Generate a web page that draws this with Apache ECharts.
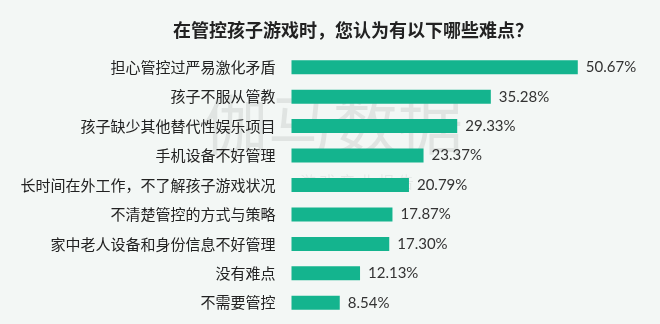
<!DOCTYPE html>
<html><head><meta charset="utf-8">
<script src="https://cdn.jsdelivr.net/npm/echarts@6/dist/echarts.min.js"></script>
<style>html,body{margin:0;padding:0;background:#f3f7f5;}#c{width:660px;height:324px;}</style>
</head><body><div id="c"></div>
<script>
const categories = ['担心管控过严易激化矛盾','孩子不服从管教','孩子缺少其他替代性娱乐项目','手机设备不好管理','长时间在外工作，不了解孩子游戏状况','不清楚管控的方式与策略','家中老人设备和身份信息不好管理','没有难点','不需要管控'];
const values = [50.67,35.28,29.33,23.37,20.79,17.87,17.30,12.13,8.54];
const titleText = '在管控孩子游戏时，您认为有以下哪些难点？';
const chart = echarts.init(document.getElementById('c'));
chart.setOption({
  backgroundColor:'#f3f7f5',
  animation:false,
  title:{text:titleText,left:168,top:16,textStyle:{fontSize:18,fontWeight:'bold',color:'#222',fontFamily:'Noto Sans CJK SC'}},
  graphic:[
    {type:'text',left:203,top:92,z:0,style:{text:'伽马数据',fontSize:65,fill:'rgba(0,0,0,0.075)',fontFamily:'Noto Sans CJK SC'}},
    {type:'text',left:300,top:174,z:0,style:{text:'游 戏 产 业 报 告',fontSize:16,fill:'rgba(0,0,0,0.06)',fontFamily:'Noto Sans CJK SC'}}
  ],
  grid:{left:291.5,right:29.5,top:52.5,bottom:6.5},
  xAxis:{type:'value',min:0,max:60,show:false},
  yAxis:{type:'category',data:categories,inverse:true,axisLine:{show:false},axisTick:{show:false},
    axisLabel:{margin:16,fontSize:15,color:'#222',fontFamily:'Noto Sans CJK SC'}},
  series:[{type:'bar',data:values,barWidth:14,itemStyle:{color:'#14b48e'},z:2,
    label:{show:true,position:'right',distance:8,fontSize:15,color:'#333',fontFamily:'Lato',
      formatter:p=>p.value.toFixed(2)+'%'}}]
});
</script></body></html>
